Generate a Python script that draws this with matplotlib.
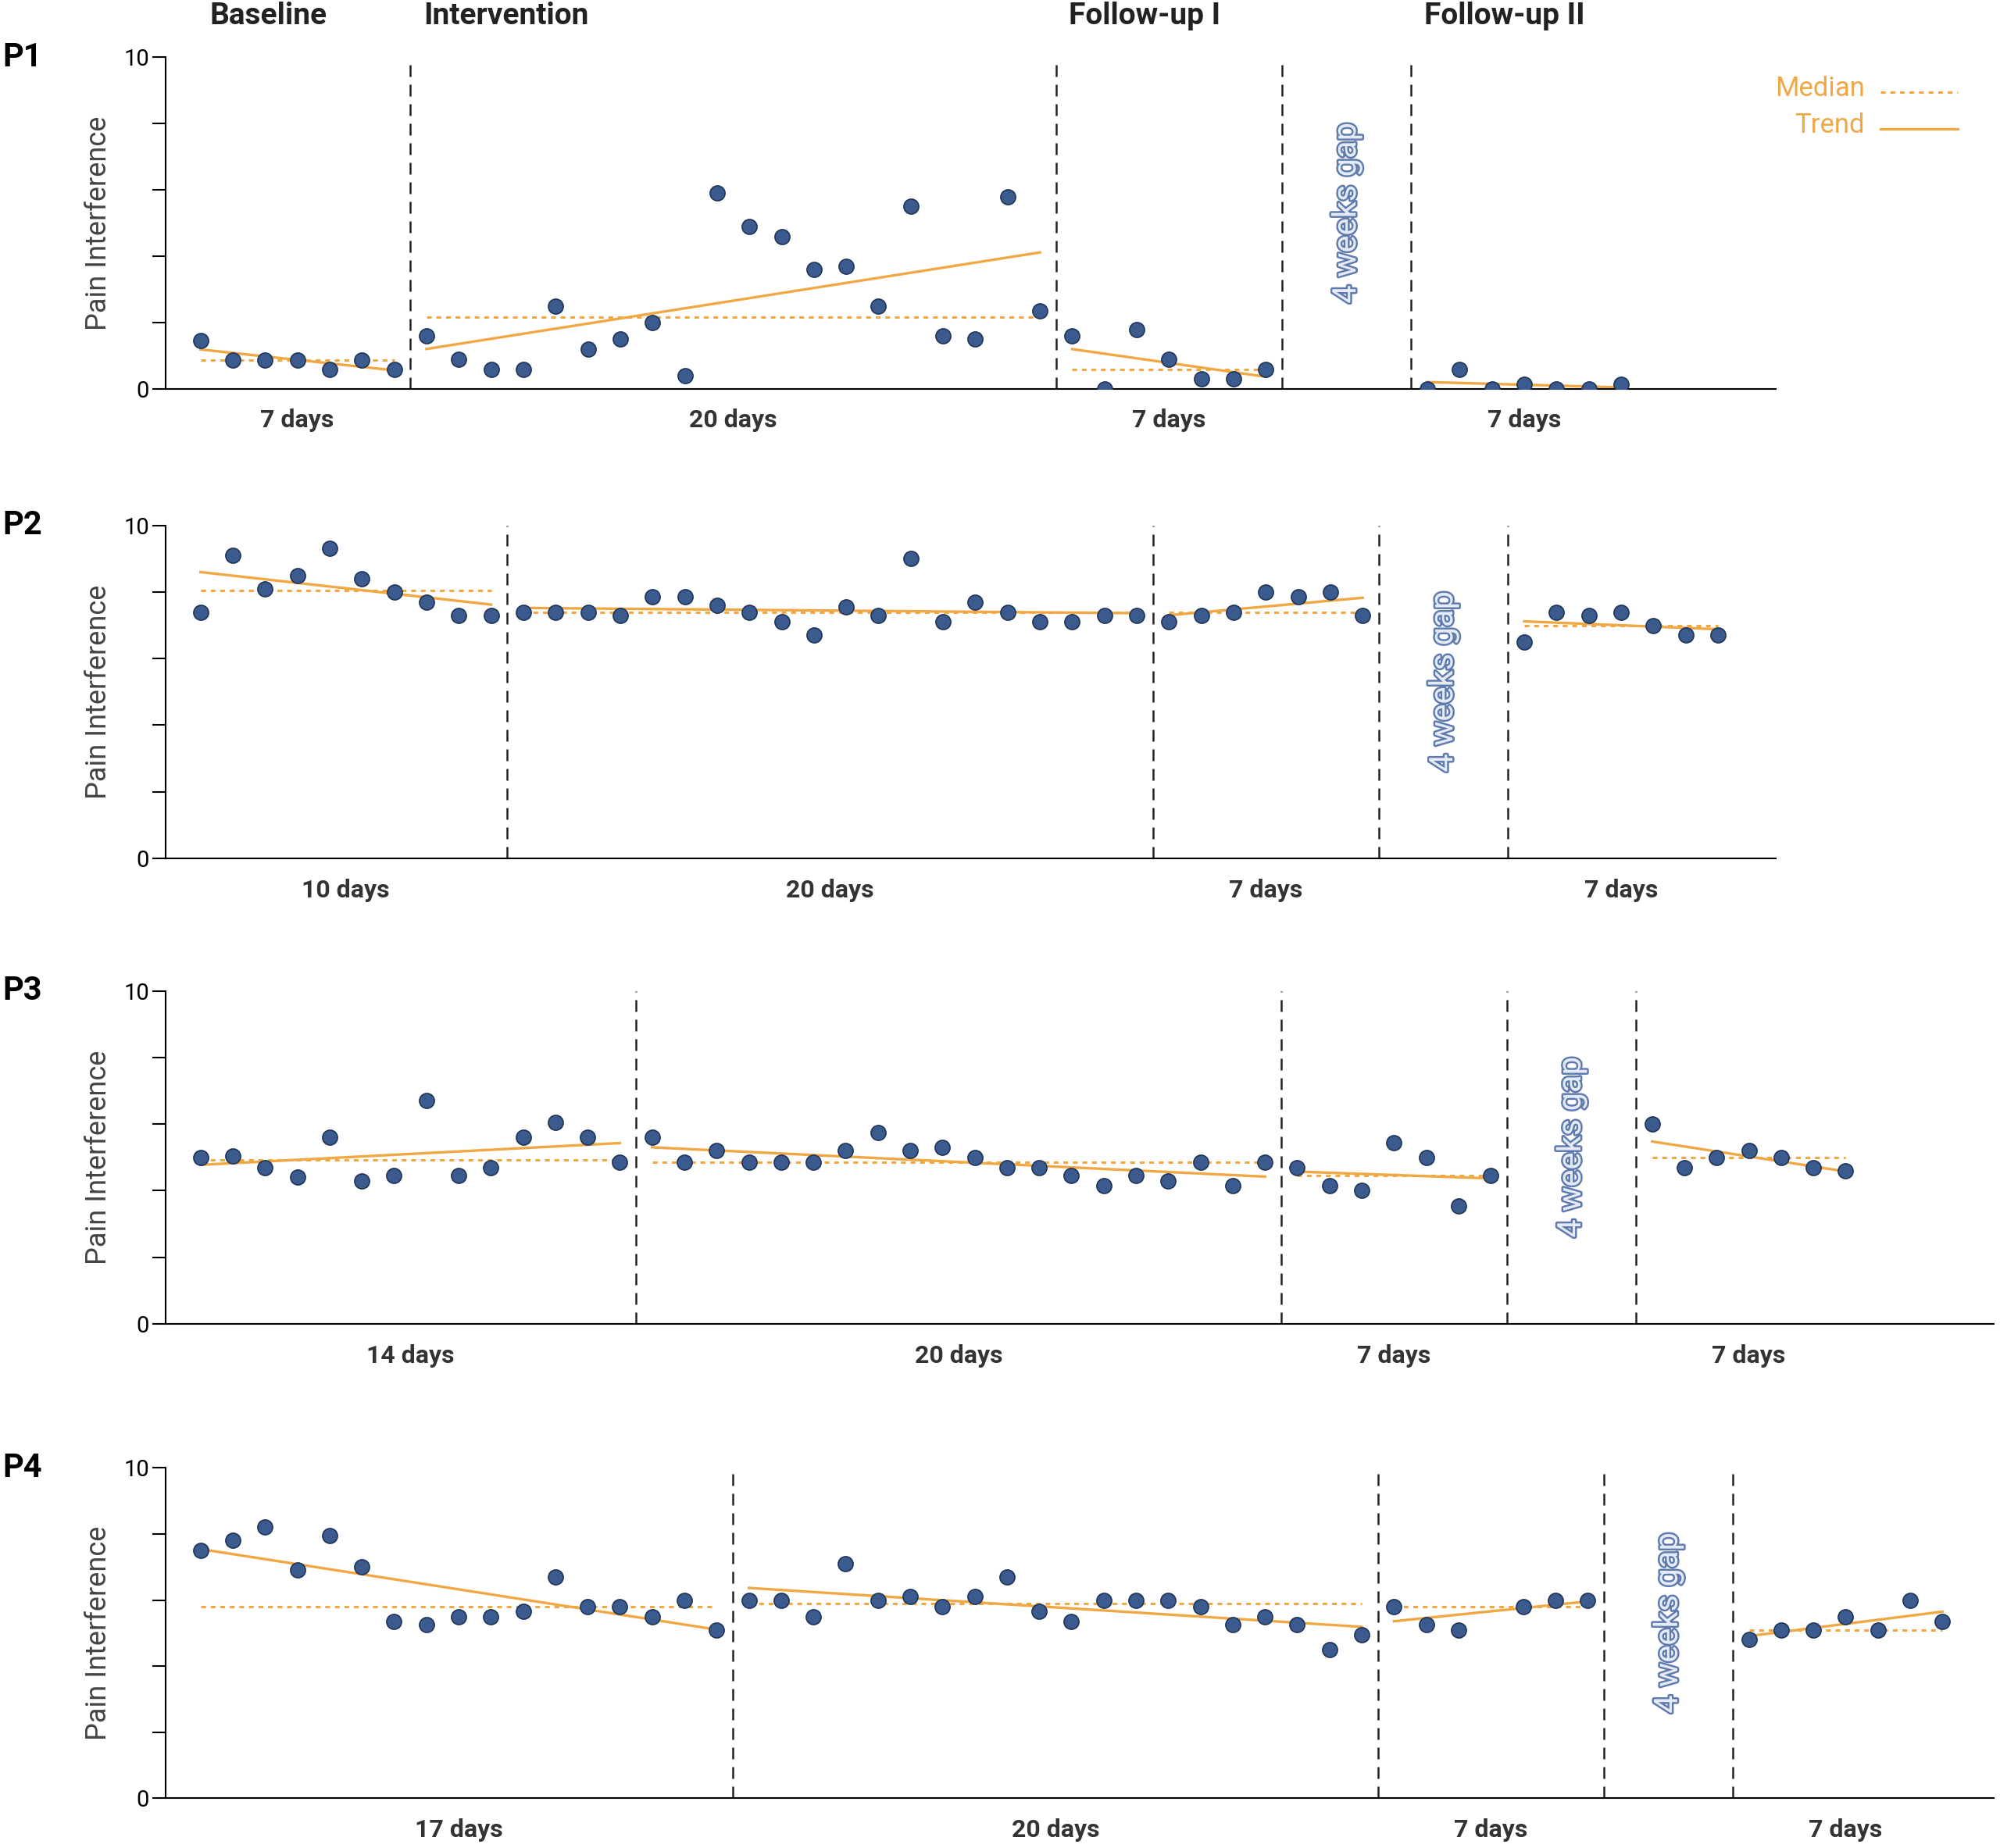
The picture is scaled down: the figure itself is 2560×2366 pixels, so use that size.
import numpy as np
import matplotlib.pyplot as plt
import matplotlib.patheffects as pe

plt.rcParams['font.family'] = ['Roboto', 'DejaVu Sans']

NAN = np.nan
participants = ["P1", "P2", "P3", "P4"]
phase_titles = ["Baseline", "Intervention", "Follow-up I", "Follow-up II"]

# pain interference per day, per phase (baseline, intervention, follow-up I, follow-up II)
p1 = [
    [1.46, 0.88, 0.88, 0.88, 0.58, 0.88, 0.58],
    [1.6, 0.9, 0.6, 0.6, 2.5, 1.2, 1.5, 2.0, 0.4, 5.9, 4.9, 4.6, 3.6, 3.7, 2.5, 5.5, 1.6, 1.5, 5.8, 2.35],
    [1.6, 0.0, 1.8, 0.9, 0.3, 0.3, 0.6],
    [0.0, 0.6, 0.0, 0.15, 0.0, 0.0, 0.15],
]
p2 = [
    [7.4, 9.1, 8.1, 8.5, 9.3, 8.4, 8.0, 7.7, 7.3, 7.3],
    [7.4, 7.4, 7.4, 7.3, 7.85, 7.85, 7.6, 7.4, 7.1, 6.7, 7.55, 7.3, 9.0, 7.1, 7.7, 7.4, 7.1, 7.1, 7.3, 7.3],
    [7.1, 7.3, 7.4, 8.0, 7.85, 8.0, 7.3],
    [6.5, 7.4, 7.3, 7.4, 7.0, 6.7, 6.7],
]
p3 = [
    [5.0, 5.05, 4.7, 4.4, 5.6, 4.3, 4.45, 6.7, 4.45, 4.7, 5.6, 6.05, 5.6, 4.85],
    [5.6, 4.85, 5.2, 4.85, 4.85, 4.85, 5.2, 5.75, 5.2, 5.3, 5.0, 4.7, 4.7, 4.45, 4.15, 4.45, 4.3, 4.85, 4.15, 4.85],
    [4.7, 4.15, 4.0, 5.45, 5.0, 3.55, 4.45],
    [6.0, 4.7, 5.0, 5.2, 5.0, 4.7, 4.6],
]
p4 = [
    [7.5, 7.8, 8.2, 6.9, 7.95, 7.0, 5.35, 5.25, 5.5, 5.5, 5.65, 6.7, 5.8, 5.8, 5.5, 6.0, 5.1],
    [6.0, 6.0, 5.5, 7.1, 6.0, 6.1, 5.8, 6.1, 6.7, 5.65, 5.35, 6.0, 6.0, 6.0, 5.8, 5.25, 5.5, 5.25, 4.5, 4.95],
    [5.8, 5.25, 5.1, NAN, 5.8, 6.0, 6.0],
    [4.8, 5.1, 5.1, 5.5, 5.1, 6.0, 5.35],
]
all_data = [p1, p2, p3, p4]
gap_days = 4

# axes boxes [left, bottom, width, height] and x extent
boxes = [
    [0.083, 0.7895, 0.805, 0.1795],
    [0.083, 0.5355, 0.805, 0.1802],
    [0.083, 0.2836, 0.914, 0.1802],
    [0.083, 0.0269, 0.914, 0.1788],
]
xmax = [49.8, 49.8, 56.6, 56.6]

ORANGE = "#f0a845"
DOT = "#3b5b8f"

fig = plt.figure(figsize=(25.6, 23.66), dpi=100)

for i, (name, phases) in enumerate(zip(participants, all_data)):
    ax = fig.add_axes(boxes[i])
    start = 1
    dividers = []
    centers = []
    for k, vals in enumerate(phases):
        vals = np.array(vals, dtype=float)
        x = np.arange(start, start + len(vals))
        ok = ~np.isnan(vals)
        ax.scatter(x[ok], vals[ok], s=190, color=DOT, edgecolor="#1f3558", linewidth=1.2, zorder=3)
        med = np.median(vals[ok])
        ax.plot([x[0], x[-1]], [med, med], ls=(0, (2, 2)), color=ORANGE, lw=2.2, zorder=2)
        m, b = np.polyfit(x[ok], vals[ok], 1)
        ax.plot([x[0], x[-1]], [m * x[0] + b, m * x[-1] + b], color=ORANGE, lw=2.4, zorder=2)
        centers.append((x[0] + x[-1]) / 2)
        ax.text(centers[-1], -0.95, f"{len(vals)} days", ha="center", va="center",
                fontsize=23, fontweight="bold", color="#333333")
        start += len(vals)
        if k < 3:
            dividers.append(start - 0.5)
        if k == 2:
            gx = start - 0.5 + gap_days / 2
            ax.text(gx, 5.3, "4 weeks gap", rotation=90, ha="center", va="center",
                    fontsize=30, color="#e4ebf7",
                    path_effects=[pe.withStroke(linewidth=3.5, foreground="#5f7aad")])
            start += gap_days
            dividers.append(start - 0.5)
    for d in dividers:
        ax.axvline(d, color="#222222", ls=(0, (6, 4)), lw=1.8)

    ax.set_xlim(-0.07, xmax[i])
    ax.set_ylim(0, 10)
    ax.set_xticks([])
    ax.set_yticks([0, 2, 4, 6, 8, 10])
    ax.set_yticklabels(["0", "", "", "", "", "10"], fontsize=21)
    ax.tick_params(axis="y", length=12, width=1.5)
    for s in ["top", "right"]:
        ax.spines[s].set_visible(False)
    for s in ["left", "bottom"]:
        ax.spines[s].set_linewidth(1.5)
    ax.set_ylabel("Pain Interference", fontsize=26, color="#444444", labelpad=10)
    ax.text(-0.083 / 0.805 * (xmax[i] + 0.07) * (0.805 / boxes[i][2]), 10.0, name,
            ha="left", va="center", fontsize=30, fontweight="bold", clip_on=False)

    if i == 0:
        title_x = [3.1, 7.9, 27.9, 38.9]
        for t, tx in zip(phase_titles, title_x):
            ax.text(tx, 11.25, t, ha="center" if t == "Baseline" else "left",
                    va="center", fontsize=28, fontweight="bold", color="#222222")
        # legend
        ax.text(1.055, 0.905, "Median", transform=ax.transAxes, ha="right", va="center",
                fontsize=25, color=ORANGE)
        ax.plot([1.065, 1.113], [0.895, 0.895], transform=ax.transAxes, ls=(0, (2, 2)),
                color=ORANGE, lw=2.2, clip_on=False)
        ax.text(1.055, 0.795, "Trend", transform=ax.transAxes, ha="right", va="center",
                fontsize=25, color=ORANGE)
        ax.plot([1.065, 1.113], [0.785, 0.785], transform=ax.transAxes,
                color=ORANGE, lw=2.4, clip_on=False)

fig.savefig("out.png", dpi=100)
